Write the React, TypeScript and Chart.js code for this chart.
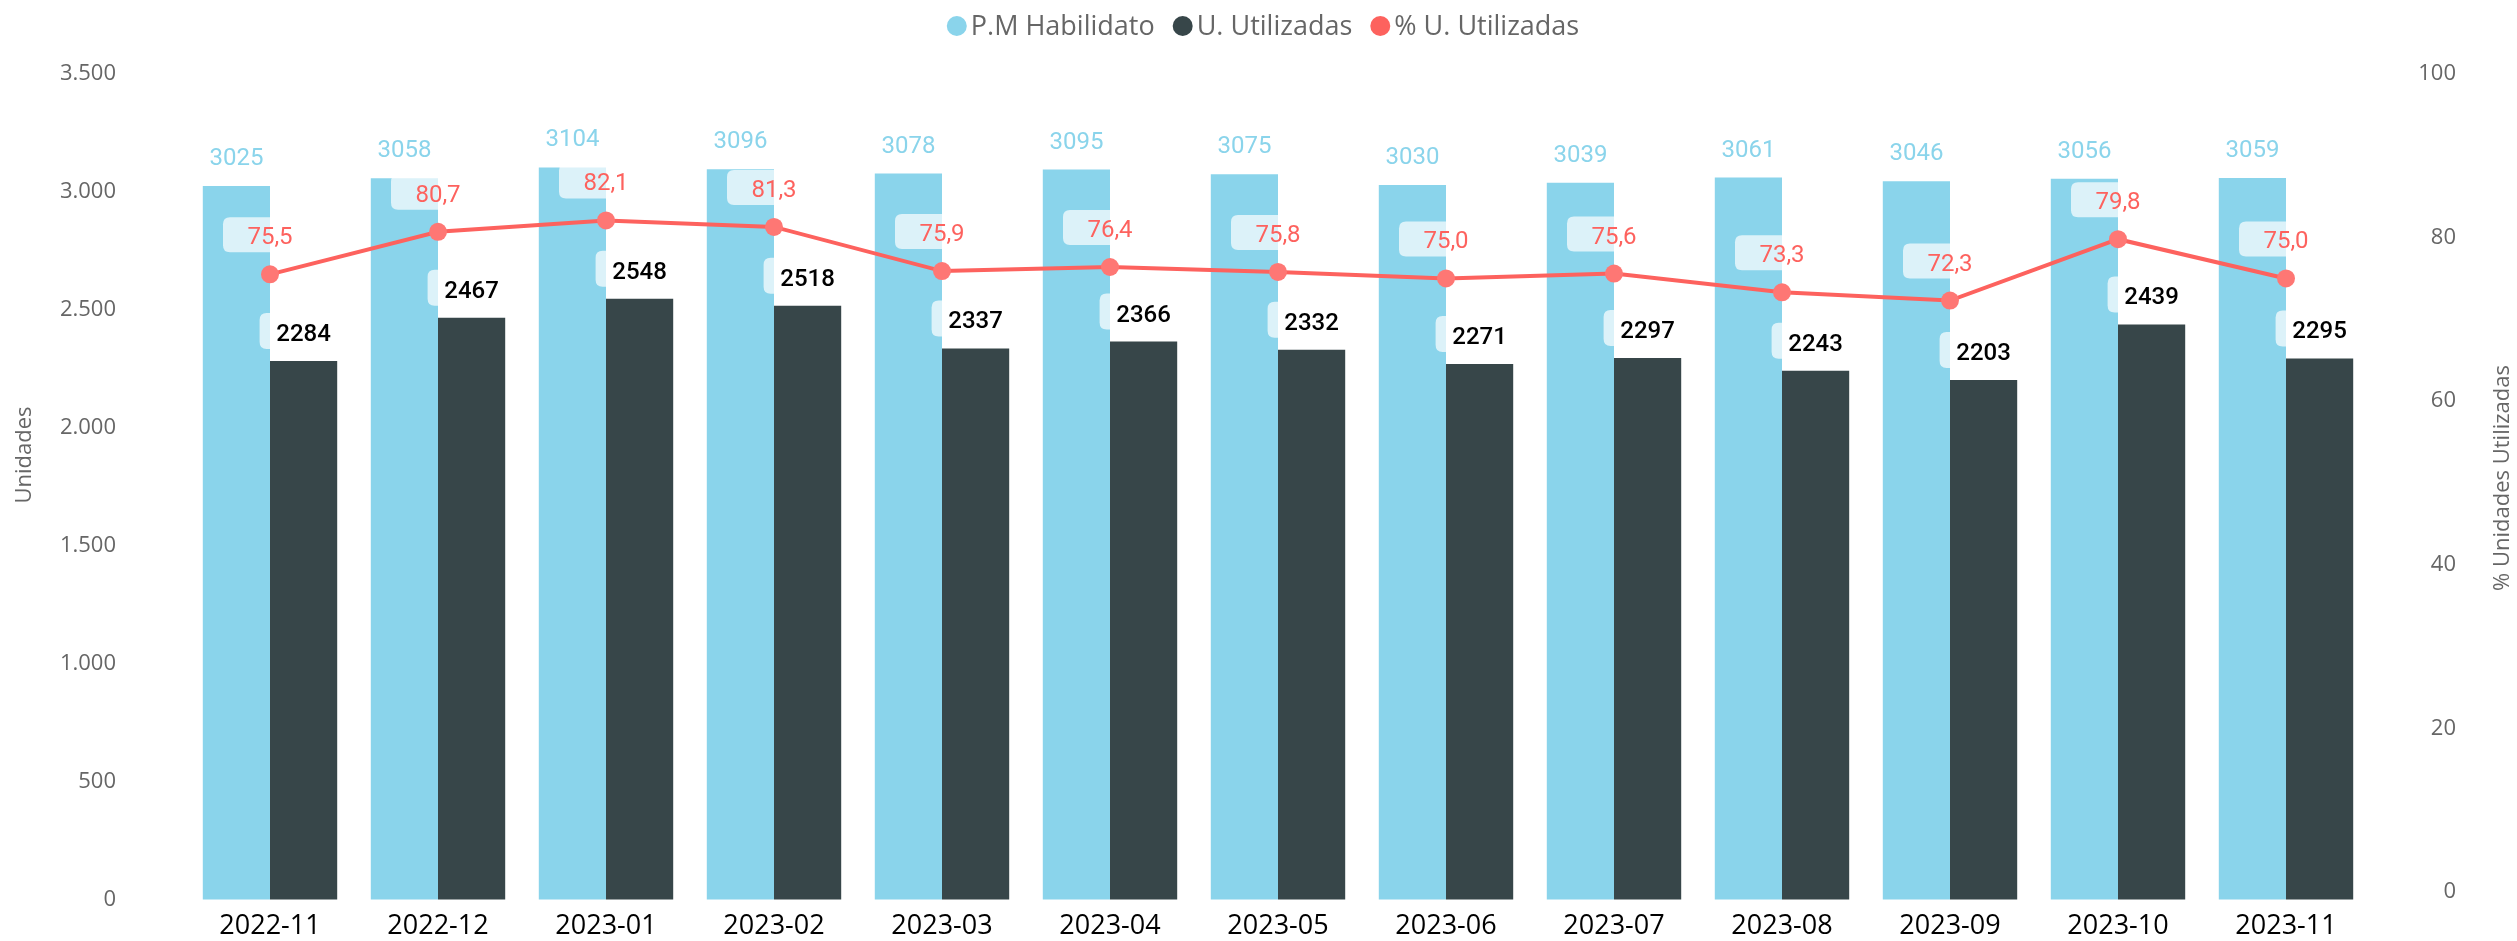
import React, { useEffect, useRef } from 'react';
import { Chart, registerables } from 'chart.js';

Chart.register(...registerables);

const categories = ['2022-11', '2022-12', '2023-01', '2023-02', '2023-03', '2023-04', '2023-05', '2023-06', '2023-07', '2023-08', '2023-09', '2023-10', '2023-11'];
const habilitado = [3025, 3058, 3104, 3096, 3078, 3095, 3075, 3030, 3039, 3061, 3046, 3056, 3059];
const utilizadas = [2284, 2467, 2548, 2518, 2337, 2366, 2332, 2271, 2297, 2243, 2203, 2439, 2295];
const pctUtilizadas = [75.5, 80.7, 82.1, 81.3, 75.9, 76.4, 75.8, 75.0, 75.6, 73.3, 72.3, 79.8, 75.0];
const seriesNames = ['P.M Habilidato', 'U. Utilizadas', '% U. Utilizadas'];
const leftTitle = 'Unidades';
const rightTitle = '% Unidades Utilizadas';

const C_LIGHT = '#8AD4EB';
const C_DARK = '#374649';
const C_RED = '#FD625E';
const C_POINT = '#FE7774';
const C_GREY = '#666666';
const UI_FONT = '"Open Sans", "Noto Sans", sans-serif';
const LBL_FONT = 'Roboto, "Noto Sans", sans-serif';

const fmtThousands = (v: number) => String(v).replace(/\B(?=(\d{3})+(?!\d))/g, '.');
const fmtPct = (v: number) => v.toFixed(1).replace('.', ',');

function roundRect(ctx: CanvasRenderingContext2D, x: number, y: number, w: number, h: number, r: number) {
  ctx.beginPath();
  ctx.moveTo(x + r, y);
  ctx.lineTo(x + w - r, y);
  ctx.quadraticCurveTo(x + w, y, x + w, y + r);
  ctx.lineTo(x + w, y + h - r);
  ctx.quadraticCurveTo(x + w, y + h, x + w - r, y + h);
  ctx.lineTo(x + r, y + h);
  ctx.quadraticCurveTo(x, y + h, x, y + h - r);
  ctx.lineTo(x, y + r);
  ctx.quadraticCurveTo(x, y, x + r, y);
  ctx.closePath();
}

const labelsPlugin = {
  id: 'customLabels',
  afterDatasetsDraw(chart: any) {
    const ctx: CanvasRenderingContext2D = chart.ctx;
    const mLight = chart.getDatasetMeta(0);
    const mDark = chart.getDatasetMeta(1);
    const mLine = chart.getDatasetMeta(2);
    ctx.save();
    ctx.textAlign = 'center';
    ctx.textBaseline = 'alphabetic';
    for (let i = 0; i < categories.length; i++) {
      const b0 = mLight.data[i];
      ctx.font = `24px ${LBL_FONT}`;
      ctx.fillStyle = C_LIGHT;
      ctx.fillText(String(habilitado[i]), b0.x, b0.y - 21);

      const b1 = mDark.data[i];
      const base1 = b1.y - 20;
      ctx.fillStyle = 'rgba(255,255,255,0.7)';
      roundRect(ctx, b1.x - 44, base1 - 28, 88, 36, 7);
      ctx.fill();
      ctx.font = `500 24px ${LBL_FONT}`;
      ctx.fillStyle = '#000000';
      ctx.fillText(String(utilizadas[i]), b1.x, base1);

      const p = mLine.data[i];
      const base2 = p.y - 30;
      ctx.fillStyle = 'rgba(255,255,255,0.7)';
      roundRect(ctx, p.x - 47, base2 - 27, 94, 35, 7);
      ctx.fill();
      ctx.font = `24px ${LBL_FONT}`;
      ctx.fillStyle = C_RED;
      ctx.fillText(fmtPct(pctUtilizadas[i]), p.x, base2);
    }
    ctx.restore();
  },
  afterDraw(chart: any) {
    const ctx: CanvasRenderingContext2D = chart.ctx;
    ctx.save();
    ctx.fillStyle = C_GREY;
    ctx.font = `22px ${UI_FONT}`;
    ctx.textAlign = 'center';
    ctx.textBaseline = 'middle';
    ctx.save();
    ctx.translate(25, 455);
    ctx.rotate(-Math.PI / 2);
    ctx.fillText(leftTitle, 0, 0);
    ctx.restore();
    ctx.save();
    ctx.translate(2503, 478);
    ctx.rotate(-Math.PI / 2);
    ctx.fillText(rightTitle, 0, 0);
    ctx.restore();

    const colors = [C_LIGHT, C_DARK, C_RED];
    ctx.font = `27px ${UI_FONT}`;
    const r = 10;
    const gapDot = 4;
    const gapItem = 18;
    const widths = seriesNames.map((s) => ctx.measureText(s).width);
    let total = 0;
    widths.forEach((w, i) => {
      total += 2 * r + gapDot + w + (i < widths.length - 1 ? gapItem : 0);
    });
    let x = 1263 - total / 2;
    const cy = 26;
    ctx.textAlign = 'left';
    ctx.textBaseline = 'middle';
    seriesNames.forEach((s, i) => {
      ctx.fillStyle = colors[i];
      ctx.beginPath();
      ctx.arc(x + r, cy, r, 0, Math.PI * 2);
      ctx.fill();
      x += 2 * r + gapDot;
      ctx.fillStyle = C_GREY;
      ctx.fillText(s, x, cy + 1);
      x += widths[i] + gapItem;
    });
    ctx.restore();
  },
};

export default function App() {
  const ref = useRef<HTMLCanvasElement | null>(null);

  useEffect(() => {
    if (!ref.current) return;
    const chart = new Chart(ref.current, {
      type: 'bar',
      data: {
        labels: categories,
        datasets: [
          {
            type: 'bar',
            label: seriesNames[0],
            data: habilitado,
            backgroundColor: C_LIGHT,
            yAxisID: 'y',
            order: 2,
            barPercentage: 1,
            categoryPercentage: 0.8,
          },
          {
            type: 'bar',
            label: seriesNames[1],
            data: utilizadas,
            backgroundColor: C_DARK,
            yAxisID: 'y',
            order: 2,
            barPercentage: 1,
            categoryPercentage: 0.8,
          },
          {
            type: 'line',
            label: seriesNames[2],
            data: pctUtilizadas,
            borderColor: C_RED,
            borderWidth: 4,
            backgroundColor: C_POINT,
            pointBackgroundColor: C_POINT,
            pointBorderWidth: 0,
            pointRadius: 9,
            tension: 0,
            yAxisID: 'y1',
            order: 0,
          } as any,
        ],
      },
      options: {
        responsive: false,
        animation: false,
        devicePixelRatio: 1,
        layout: { padding: { top: 74, left: 0, right: 61, bottom: 0 } },
        plugins: {
          legend: { display: false },
          tooltip: { enabled: false },
        },
        scales: {
          x: {
            grid: { display: false, drawTicks: false },
            border: { display: false },
            ticks: {
              color: '#000000',
              font: { size: 27, family: UI_FONT },
              padding: 10,
              maxRotation: 0,
              autoSkip: false,
            },
            afterFit: (s: any) => {
              s.height = 41;
            },
          },
          y: {
            position: 'left',
            min: 0,
            max: 3500,
            grid: {
              display: true,
              drawOnChartArea: false,
              drawTicks: true,
              tickLength: 70,
              color: 'rgba(0,0,0,0)',
            },
            border: { display: false },
            ticks: {
              stepSize: 500,
              color: C_GREY,
              font: { size: 22, family: UI_FONT },
              padding: 0,
              callback: (v: any) => fmtThousands(Number(v)),
            },
            afterFit: (s: any) => {
              s.width = 186;
            },
          },
          y1: {
            position: 'right',
            min: -1,
            max: 100,
            grid: { display: false, drawTicks: false },
            border: { display: false },
            ticks: {
              stepSize: 20,
              includeBounds: false,
              color: C_GREY,
              font: { size: 22, family: UI_FONT },
              padding: 0,
              crossAlign: 'far',
            },
            afterFit: (s: any) => {
              s.width = 86;
            },
          },
        },
      } as any,
      plugins: [labelsPlugin],
    });
    return () => chart.destroy();
  }, []);

  return (
    <div style={{ position: 'absolute', left: 0, top: 0, width: 2517, height: 941, background: '#ffffff' }}>
      <canvas ref={ref} width={2517} height={941} style={{ display: 'block', width: 2517, height: 941 }} />
    </div>
  );
}
